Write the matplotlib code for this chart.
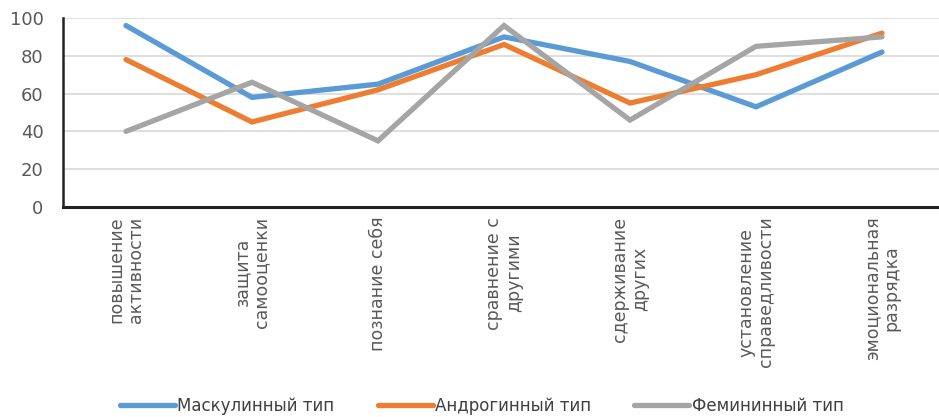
import matplotlib.pyplot as plt
import numpy as np

categories = ["повышение\nактивности", "защита\nсамооценки", "познание себя",
              "сравнение с\nдругими", "сдерживание\nдругих",
              "установление\nсправедливости", "эмоциональная\nразрядка"]
masc = [96, 58, 65, 90, 77, 53, 82]
andro = [78, 45, 62, 86, 55, 70, 92]
femin = [40, 66, 35, 96, 46, 85, 90]
series_names = ["Маскулинный тип", "Андрогинный тип", "Фемининный тип"]
colors = ["#5B9BD5", "#ED7D31", "#A5A5A5"]

fig = plt.figure(figsize=(9.39, 4.17), dpi=100)
ax = fig.add_axes([63 / 939, 210 / 417, 882 / 939, 189 / 417])

x = np.arange(len(categories))
for vals, name, c in zip([masc, andro, femin], series_names, colors):
    ax.plot(x, vals, color=c, lw=3.8, label=name, solid_capstyle="round",
            solid_joinstyle="miter", zorder=3)

ax.set_xlim(-0.5, 6.5)
ax.set_ylim(0, 100)
ax.set_yticks(range(0, 101, 20))
ax.grid(axis="y", color="#D9D9D9", lw=1.2, zorder=0)
for s in ["top", "right"]:
    ax.spines[s].set_visible(False)
ax.spines["left"].set_color("#222222")
ax.spines["bottom"].set_color("#222222")
ax.spines["left"].set_linewidth(1.8)
ax.spines["bottom"].set_linewidth(2.2)
ax.tick_params(axis="both", length=0, colors="#595959", labelsize=13)
ax.tick_params(axis="y", pad=14)
ax.set_xticks(x)
ax.set_xticklabels(categories, rotation=90, fontsize=12.5, va="top",
                   ha="center", linespacing=1.1, color="#595959")
ax.tick_params(axis="x", pad=7)

fig.legend(loc="lower center", ncol=3, bbox_to_anchor=(0.513, -0.03),
           frameon=False, handlelength=3.3, handletextpad=0.15,
           columnspacing=2.6, prop={"size": 12},
           labelcolor="#404040")

fig.savefig("out.png", dpi=100)
